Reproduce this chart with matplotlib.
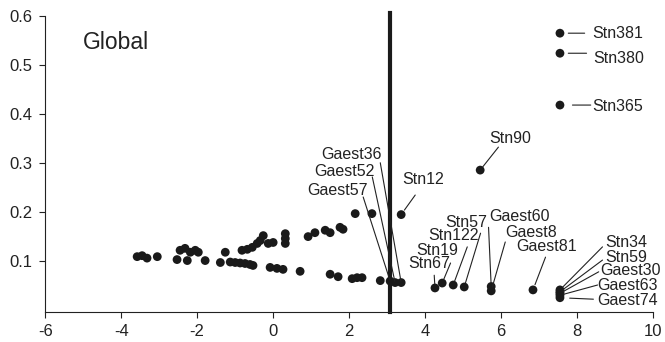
import matplotlib.pyplot as plt

plt.rcParams['font.family'] = ['Liberation Sans', 'DejaVu Sans']
plt.rcParams['axes.unicode_minus'] = False

# unlabelled points
xs = [-3.58, -3.45, -3.32, -3.05,
      -2.53, -2.45, -2.32, -2.18, -2.05, -2.26, -1.97, -1.79,
      -1.39, -1.26, -1.13, -1.00, -0.87, -0.74, -0.61, -0.53,
      -0.82, -0.68, -0.55, -0.42, -0.34, -0.26, -0.13, 0.0, 0.32, 0.32, 0.32,
      -0.08, 0.10, 0.26, 0.71,
      0.92, 1.10, 1.37, 1.50, 1.76, 1.84,
      2.16, 2.60,
      1.50, 1.71, 2.08, 2.21, 2.34, 2.82]
ys = [0.108, 0.110, 0.105, 0.108,
      0.102, 0.121, 0.125, 0.117, 0.121, 0.100, 0.117, 0.100,
      0.096, 0.117, 0.097, 0.096, 0.095, 0.094, 0.092, 0.090,
      0.121, 0.123, 0.127, 0.135, 0.141, 0.151, 0.135, 0.137, 0.135, 0.145, 0.155,
      0.086, 0.084, 0.082, 0.078,
      0.149, 0.157, 0.162, 0.157, 0.168, 0.164,
      0.196, 0.196,
      0.072, 0.067, 0.063, 0.065, 0.065, 0.059]

# labelled points
names = ["Gaest57", "Gaest52", "Gaest36", "Stn12", "Stn90",
         "Stn381", "Stn380", "Stn365",
         "Stn67", "Stn19", "Stn122", "Stn57", "Gaest60", "Gaest8", "Gaest81",
         "Stn34", "Stn59", "Gaest30", "Gaest63", "Gaest74"]
lx = [3.08, 3.21, 3.37, 3.37, 5.45,
      7.55, 7.55, 7.55,
      4.26, 4.45, 4.74, 5.03, 5.74, 5.74, 6.84,
      7.55, 7.55, 7.55, 7.55, 7.55]
ly = [0.058, 0.055, 0.055, 0.194, 0.285,
      0.565, 0.524, 0.418,
      0.044, 0.054, 0.050, 0.046, 0.047, 0.038, 0.040,
      0.040, 0.036, 0.033, 0.029, 0.024]

# label text placement: (x, y, ha) and where the leader line starts
text_pos = [(2.48, 0.244, "right"), (2.66, 0.283, "right"), (2.87, 0.316, "right"),
            (3.40, 0.265, "left"), (6.25, 0.350, "center"),
            (8.41, 0.565, "left"), (8.43, 0.514, "left"), (8.41, 0.416, "left"),
            (4.11, 0.094, "center"), (4.32, 0.121, "center"), (4.74, 0.151, "center"),
            (5.09, 0.178, "center"), (6.48, 0.191, "center"), (6.80, 0.158, "center"),
            (7.20, 0.128, "center"),
            (8.75, 0.136, "left"), (8.75, 0.107, "left"), (8.62, 0.079, "left"),
            (8.54, 0.050, "left"), (8.54, 0.019, "left")]
lead_start = [(2.37, 0.230), (2.61, 0.271), (2.82, 0.300), (3.74, 0.234), (5.93, 0.332),
              (8.20, 0.565), (8.25, 0.524), (8.36, 0.418),
              (4.24, 0.070), (4.67, 0.095), (5.11, 0.128), (5.46, 0.156),
              (5.67, 0.168), (6.11, 0.138), (7.17, 0.107),
              (8.67, 0.128), (8.67, 0.101), (8.57, 0.077), (8.54, 0.050), (8.43, 0.021)]
gap = [1, 1, 1, 4, 3, 6, 6, 9, 3, 3, 3, 3, 3, 3, 4, 3, 3, 3, 3, 7]

fig = plt.figure(figsize=(6.65, 3.42), dpi=100)
ax = fig.add_axes([0.068, 0.088, 0.914, 0.865])

ax.axvline(3.08, ymax=1.01, color="#1a1a1a", lw=3, zorder=1, clip_on=False)
ax.scatter(xs, ys, s=40, color="#1a1a1a", edgecolors="none", zorder=3)
ax.scatter(lx, ly, s=40, color="#1a1a1a", edgecolors="none", zorder=3)

for i, name in enumerate(names):
    ax.annotate("", xy=(lx[i], ly[i]), xytext=lead_start[i],
                arrowprops=dict(arrowstyle="-", color="#222222", lw=0.8,
                                shrinkA=0, shrinkB=gap[i]))
    tx, ty, ha = text_pos[i]
    ax.text(tx, ty, name, ha=ha, va="center", fontsize=11.5, color="#222222")

ax.text(-5.0, 0.545, "Global", fontsize=16.5, va="center", color="#222222")

ax.set_xlim(-6, 10)
ax.set_ylim(-0.005, 0.6)
ax.set_xticks(range(-6, 11, 2))
ax.set_yticks([0.1, 0.2, 0.3, 0.4, 0.5, 0.6])
ax.set_yticklabels(["0.1", "0.2", "0.3", "0.4", "0.5", "0.6"])
ax.spines["top"].set_visible(False)
ax.spines["right"].set_visible(False)
for sp in ["left", "bottom"]:
    ax.spines[sp].set_linewidth(0.8)
    ax.spines[sp].set_color("#222222")
ax.tick_params(direction="out", length=4, width=0.8, labelsize=12,
               colors="#222222", pad=5)

fig.savefig("out.png", dpi=100)
